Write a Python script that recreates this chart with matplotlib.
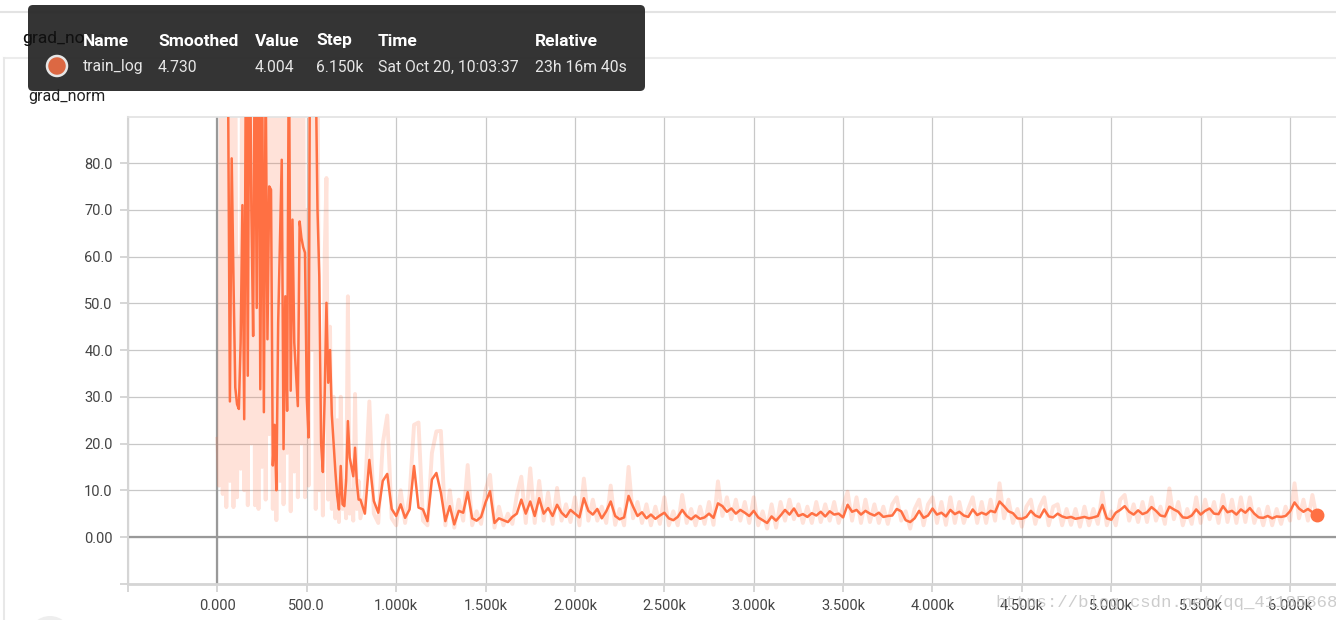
import matplotlib
matplotlib.use("Agg")
import matplotlib.pyplot as plt
from matplotlib.patches import FancyBboxPatch, Circle
import numpy as np

# ---------------- data ----------------
early_steps = list(range(0, 800, 10))
tail_steps = list(range(800, 6151, 25))
steps = early_steps + tail_steps

smoothed_early = [130, 115, 145, 125, 150, 120, 95, 29, 81, 55,
                  32, 28.4, 27.4, 41.6, 71, 25.2, 110, 34.5, 120, 70,
                  43, 115, 49, 125, 31.6, 105, 26.7, 100, 42.3, 75,
                  74.3, 15.3, 24, 10, 45.8, 62.9, 80.7, 18.8, 51.5, 27,
                  110, 31.3, 67.9, 41.6, 35, 28, 67.5, 64, 62, 60.8,
                  29.8, 21.3, 130, 95, 140, 100, 70, 55.8, 20.2, 13.9,
                  30, 50.1, 33, 40, 26.2, 20, 14, 8.8, 5.9, 15.2,
                  7, 6.6, 12, 24.8, 17, 15, 13, 19.1, 11.6, 8]

smoothed_tail = [8.0, 5.0, 16.5, 7.7, 5.2, 12.0, 13.5, 6.0, 4.5, 7.0, 4.1, 5.9, 15.2, 6.3, 5.9, 3.4, 12.3, 13.7, 9.5, 3.4,
                 6.6, 2.7, 5.6, 5.2, 9.6, 4.0, 3.5, 4.3, 7.4, 9.8, 3.0, 4.0, 3.6, 3.2, 4.3, 5.0, 8.0, 5.0, 7.6, 4.5,
                 8.3, 5.0, 6.2, 4.5, 6.9, 5.2, 4.3, 5.8, 5.0, 4.2, 8.3, 5.6, 4.8, 6.0, 4.0, 5.5, 7.6, 4.5, 3.8, 4.2,
                 8.8, 6.5, 4.5, 5.3, 4.0, 4.8, 3.9, 4.6, 5.2, 4.0, 3.6, 4.3, 5.8, 4.5, 3.8, 4.6, 3.9, 4.2, 5.0, 4.1,
                 7.2, 6.6, 5.4, 6.1, 5.0, 5.8, 5.2, 4.5, 5.6, 4.2, 3.6, 3.0, 4.4, 3.5, 4.6, 5.8, 4.8, 6.1, 4.5, 4.9,
                 4.3, 5.1, 4.6, 5.4, 4.4, 5.5, 4.8, 5.0, 4.2, 6.9, 5.4, 5.8, 4.8, 5.6, 5.0, 4.6, 5.2, 4.3, 4.5, 4.6,
                 6.0, 5.5, 3.6, 3.2, 4.0, 5.6, 4.1, 4.6, 6.1, 4.8, 5.2, 4.4, 5.8, 4.9, 5.4, 4.6, 4.3, 5.9, 4.7, 5.2,
                 4.8, 5.6, 5.3, 7.6, 6.6, 5.5, 5.1, 4.0, 3.9, 4.3, 5.6, 4.6, 4.2, 5.9, 4.4, 4.2, 5.0, 4.4, 4.1, 4.3,
                 3.9, 4.1, 4.3, 4.0, 4.2, 4.5, 6.9, 4.0, 3.7, 5.2, 5.8, 6.6, 5.4, 4.8, 5.7, 4.9, 5.3, 6.4, 5.6, 4.6,
                 4.4, 6.5, 5.9, 5.4, 4.2, 4.1, 4.6, 5.9, 4.8, 5.6, 6.1, 5.0, 4.9, 6.6, 5.3, 5.6, 4.8, 5.9, 5.2, 6.2,
                 5.0, 4.2, 4.1, 4.5, 4.0, 4.4, 4.3, 4.5, 5.5, 7.4, 6.1, 5.4, 6.0, 5.3, 4.73]

raw_early = [21, 11, 100, 9.2, 140, 6.4, 95, 12, 120, 6.4,
             110, 8.5, 60, 14.6, 130, 10, 150, 6.8, 115, 20,
             140, 6.8, 125, 6, 160, 15, 110, 8, 130, 22,
             120, 6, 100, 3.6, 90, 12, 135, 7, 100, 18,
             140, 5.5, 110, 14, 95, 8.5, 125, 20, 105, 8.5,
             70, 11, 160, 40, 150, 6, 110, 10, 30, 4.6,
             60, 76.8, 8, 45, 6, 30, 4, 25, 3.2, 30,
             6, 12, 4, 51.5, 5, 10, 3.5, 30.6, 6, 12]

raw_tail = [4, 9, 29, 5, 3, 20, 26, 4, 2.5, 10, 3, 9, 24, 24.5, 3.5, 2.5, 18, 22.6, 22.7, 2.5,
            10, 2, 8, 3.5, 15.4, 2.5, 5.5, 2.8, 10, 13.3, 2, 6.5, 2.5, 5, 2.8, 9, 12.9, 3, 14.7, 3,
            12, 3.5, 9.5, 2.8, 10.5, 3.5, 7, 3.2, 8.5, 2.5, 12.5, 3.5, 8, 3.5, 6.5, 3, 11, 2.6, 6, 2.5,
            15, 4, 7.5, 3, 7, 2.5, 6.5, 2.8, 8.5, 2.5, 5.5, 2.5, 9, 3, 6, 2.5, 6.5, 2.8, 7.5, 2.6,
            11.9, 4.5, 8.5, 3.8, 8, 3.5, 7.5, 3, 8.5, 2.5, 5.5, 1.8, 7, 2, 7.5, 3.5, 8, 3.8, 7, 3,
            6.5, 3, 7.5, 3.2, 7, 3.5, 7.5, 3, 6.5, 9.7, 3.5, 8.5, 3, 8, 3.2, 7, 3, 6.5, 2.8, 7,
            8.5, 3.5, 5.5, 1.8, 6, 8, 2.5, 7, 8.5, 3, 7.5, 2.6, 8.5, 3, 7.5, 3, 6, 8.5, 3, 7.5,
            3, 8, 3.5, 11.5, 4, 8, 3, 6, 2.2, 6.5, 8, 2.8, 6.5, 8.5, 2.5, 6.5, 7, 2.5, 6, 2.6,
            6, 2.2, 6.5, 2.5, 6, 2.8, 9.5, 2.5, 5.5, 2.5, 8, 9, 3.5, 7, 3.2, 7.5, 3.2, 8.5, 3.5, 6.5,
            2.8, 10.4, 3.8, 7.5, 2.5, 6, 2.8, 8.5, 3, 8, 3.8, 7.5, 3, 9, 3.2, 8, 3, 8.5, 3.2, 8.5,
            3, 6, 2.5, 6.5, 2.5, 6, 2.8, 6.5, 3.5, 11.5, 4, 8, 3.5, 9, 4.004]

smoothed = smoothed_early + smoothed_tail
raw = raw_early + raw_tail

x_ticks = [-500, 0, 500, 1000, 1500, 2000, 2500, 3000, 3500, 4000, 4500, 5000, 5500, 6000]
x_tick_labels = ["", "0.000", "500.0", "1.000k", "1.500k", "2.000k", "2.500k", "3.000k",
                 "3.500k", "4.000k", "4.500k", "5.000k", "5.500k", "6.000k"]
y_ticks = [-10, 0, 10, 20, 30, 40, 50, 60, 70, 80]
y_tick_labels = ["", "0.00", "10.0", "20.0", "30.0", "40.0", "50.0", "60.0", "70.0", "80.0"]

tooltip_headers = ["Name", "Smoothed", "Value", "Step", "Time", "Relative"]
tooltip_values = ["train_log", "4.730", "4.004", "6.150k", "Sat Oct 20, 10:03:37", "23h 16m 40s"]

# ---------------- figure ----------------
W, H = 1336, 620
fig = plt.figure(figsize=(W / 100, H / 100), dpi=100)
fig.patch.set_facecolor("white")

LINE = "#ff7043"
left_px, right_px, top_px, bot_px = 128, 1336, 117, 584
ax = fig.add_axes([left_px / W, 1 - bot_px / H, (right_px - left_px) / W, (bot_px - top_px) / H])
ax.set_xlim(-498, 6257)
ax.set_ylim(-10.05, 89.85)

ax.set_xticks(x_ticks)
ax.set_xticklabels(x_tick_labels)
ax.set_yticks(y_ticks)
ax.set_yticklabels(y_tick_labels)
ax.tick_params(axis="both", colors="#cfcfcf", labelcolor="#444444", labelsize=10.5,
               length=6, width=1.2, pad=5)
for lab in ax.get_xticklabels() + ax.get_yticklabels():
    lab.set_family(["Roboto", "DejaVu Sans"])

ax.grid(True, color="#c8c8c8", linewidth=0.9, zorder=0)
ax.set_axisbelow(True)
ax.spines["right"].set_visible(False)
ax.spines["top"].set_color("#e2e2e2")
ax.spines["top"].set_linewidth(1.2)
ax.spines["left"].set_color("#d5d5d5")
ax.spines["left"].set_linewidth(1.5)
ax.spines["bottom"].set_color("#d5d5d5")
ax.spines["bottom"].set_linewidth(2.0)

ax.axhline(0, color="#999999", linewidth=1.6, zorder=1)
ax.axvline(0, color="#999999", linewidth=1.6, zorder=1)

ax.plot(steps, raw, color=LINE, alpha=0.2, linewidth=2.8, zorder=2)
ax.plot(steps, smoothed, color=LINE, linewidth=1.8, zorder=3)
ax.plot([steps[-1]], [smoothed[-1]], "o", color=LINE, markersize=9, zorder=4)

# ---------------- overlay (page chrome + tooltip) ----------------
ov = fig.add_axes([0, 0, 1, 1])
ov.set_xlim(0, W)
ov.set_ylim(H, 0)
ov.axis("off")
ov.patch.set_alpha(0)
ov.set_zorder(5)

ov.plot([0, W], [12, 12], color="#e3e3e3", linewidth=1.5, zorder=1)
ov.plot([4, W], [58, 58], color="#ececec", linewidth=1.5, zorder=1)
ov.plot([4, 4], [58, H], color="#e8e8e8", linewidth=1.5, zorder=1)
ov.add_patch(Circle((50, 638), 22, facecolor="#eeeeee", edgecolor="none", zorder=1))

ov.text(22, 38, "grad_norm", fontsize=12.5, color="#212121", va="center", ha="left",
        family=["Roboto", "DejaVu Sans"], zorder=2)

tip = FancyBboxPatch((28, 5), 617, 86, boxstyle="round,pad=0,rounding_size=5",
                     facecolor="#2b2b2b", edgecolor="none", alpha=0.96, zorder=3)
ov.add_patch(tip)
# the black title text shows through the tooltip
ov.text(22, 38, "grad_no", fontsize=12.5, color="#000000", va="center", ha="left",
        family=["Roboto", "DejaVu Sans"], alpha=0.6, zorder=4)

ov.text(28, 97, "grad_norm", fontsize=11.5, color="#212121", va="center", ha="left",
        family=["Roboto", "DejaVu Sans"], zorder=6)

col_x = [83, 158, 255, 316, 378, 535]
for xh, hd in zip(col_x, tooltip_headers):
    ov.text(xh, 41, hd, fontsize=12.5, fontweight="bold", color="white", va="center",
            ha="left", family=["Roboto", "DejaVu Sans"], zorder=5)
for xh, vv in zip(col_x, tooltip_values):
    ov.text(xh, 67, vv, fontsize=11.3, color="#e6e6e6", va="center", ha="left",
            family=["Roboto", "DejaVu Sans"], zorder=5)
ov.add_patch(Circle((57, 66), 10, facecolor="#dc6843", edgecolor="#e6e6e6", linewidth=1.8, zorder=5))

ov.text(995, 603, "https://blog.csdn.net/qq_41185868", fontsize=12.5, color="#c4c4c4",
        alpha=0.85, va="center", ha="left", family=["Liberation Mono", "DejaVu Sans Mono"], zorder=6)

fig.savefig("out.png", dpi=100)
